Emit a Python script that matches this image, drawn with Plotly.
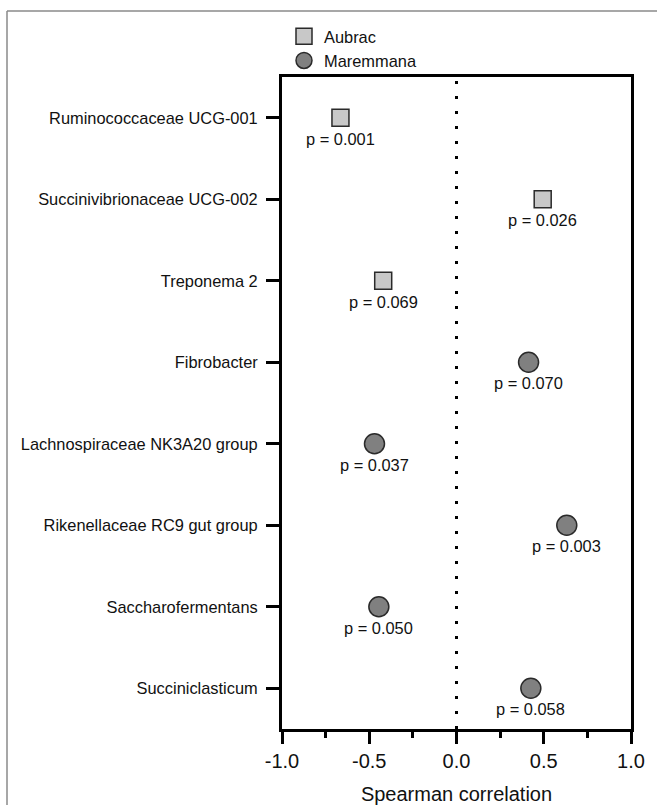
import plotly.graph_objects as go

# Genera, listed top to bottom
genera = [
    "Ruminococcaceae UCG-001",
    "Succinivibrionaceae UCG-002",
    "Treponema 2",
    "Fibrobacter",
    "Lachnospiraceae NK3A20 group",
    "Rikenellaceae RC9 gut group",
    "Saccharofermentans",
    "Succiniclasticum",
]

# Aubrac breed
aubrac_genera = ["Ruminococcaceae UCG-001", "Succinivibrionaceae UCG-002", "Treponema 2"]
aubrac_rho = [-0.665, 0.494, -0.42]
aubrac_p = ["0.001", "0.026", "0.069"]

# Maremmana breed
maremmana_genera = [
    "Fibrobacter",
    "Lachnospiraceae NK3A20 group",
    "Rikenellaceae RC9 gut group",
    "Saccharofermentans",
    "Succiniclasticum",
]
maremmana_rho = [0.413, -0.47, 0.632, -0.445, 0.426]
maremmana_p = ["0.070", "0.037", "0.003", "0.050", "0.058"]

x_ticks = [-1.0, -0.5, 0.0, 0.5, 1.0]
x_tick_labels = ["-1.0", "-0.5", "0.0", "0.5", "1.0"]

FONT = "Arial, Liberation Sans, sans-serif"
W, H = 657, 805
ML, MR, MT, MB = 282, 26, 77, 76

fig = go.Figure()

fig.add_trace(go.Scatter(
    x=aubrac_rho, y=aubrac_genera, mode="markers", name="Aubrac",
    marker=dict(symbol="square", size=17, color="#c8c8c8",
                line=dict(color="#2a2a2a", width=1.5)),
))
fig.add_trace(go.Scatter(
    x=maremmana_rho, y=maremmana_genera, mode="markers", name="Maremmana",
    marker=dict(symbol="circle", size=20, color="#808080",
                line=dict(color="#2a2a2a", width=1.5)),
))

# p-value labels under each marker
for xs, ys, ps in [(aubrac_rho, aubrac_genera, aubrac_p),
                   (maremmana_rho, maremmana_genera, maremmana_p)]:
    for xv, yv, pv in zip(xs, ys, ps):
        fig.add_annotation(x=xv, y=yv, xref="x", yref="y", text=f"p = {pv}",
                           showarrow=False, yshift=-21,
                           font=dict(family=FONT, size=16.4, color="#111111"))

# dotted zero line
fig.add_shape(type="line", xref="x", yref="paper", x0=0, x1=0, y0=0, y1=1,
              line=dict(color="black", width=3, dash="3px,12px"), layer="below")

# outer frame (left and top edges)
pw = W - ML - MR
ph = H - MT - MB
fx = (7 - ML) / pw
fy = (H - MB - 11) / ph
fig.add_shape(type="line", xref="paper", yref="paper", x0=fx, x1=fx, y0=-0.2, y1=fy,
              line=dict(color="#8a8a8a", width=1.5))
fig.add_shape(type="line", xref="paper", yref="paper", x0=fx, x1=(W - ML + 5) / pw, y0=fy, y1=fy,
              line=dict(color="#8a8a8a", width=1.5))

fig.update_layout(
    width=W, height=H,
    margin=dict(l=ML, r=MR, t=MT, b=MB, autoexpand=False),
    paper_bgcolor="white", plot_bgcolor="white",
    font=dict(family=FONT, color="#111111"),
    showlegend=True,
    legend=dict(x=(284 - ML) / pw, y=(H - MB - 19) / ph, xanchor="left", yanchor="top",
                font=dict(family=FONT, size=16.4, color="#111111"),
                bgcolor="rgba(0,0,0,0)", tracegroupgap=0, itemsizing="trace"),
    xaxis=dict(
        range=[-1, 1], tickvals=x_ticks, ticktext=x_tick_labels,
        showgrid=False, zeroline=False, automargin=False,
        showline=True, linecolor="black", linewidth=3, mirror=True,
        ticks="outside", ticklen=12, tickwidth=3, tickcolor="black",
        ticklabelstandoff=0,
        tickfont=dict(family=FONT, size=20, color="#111111"),
        minor=dict(ticks="outside", ticklen=6, tickwidth=3, tickcolor="black",
                   tickvals=[-0.75, -0.25, 0.25, 0.75], showgrid=False),
        title=dict(text="Spearman correlation", standoff=42,
                   font=dict(family=FONT, size=20, color="#111111")),
    ),
    yaxis=dict(
        type="category", categoryorder="array", categoryarray=genera,
        range=[len(genera) - 0.5, -0.5], automargin=False,
        showgrid=False, zeroline=False,
        showline=True, linecolor="black", linewidth=3, mirror=True,
        ticks="outside", ticklen=13, tickwidth=3, tickcolor="black",
        ticklabelstandoff=5,
        tickfont=dict(family=FONT, size=16.4, color="#111111"),
    ),
)

fig.write_html("out.html")
